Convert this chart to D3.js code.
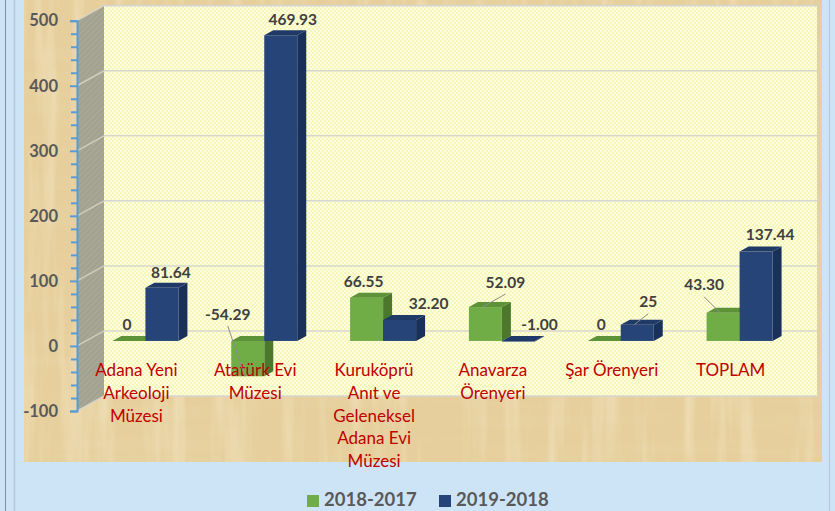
<!DOCTYPE html>
<html>
<head>
<meta charset="utf-8">
<script src="https://cdn.jsdelivr.net/npm/d3@7"></script>
<style>
  body { margin: 0; background: #cde4f7; }
  svg { display: block; }
</style>
</head>
<body>
<div id="chart"></div>
<script>
// data
var categories = ["Adana Yeni Arkeoloji Müzesi", "Atatürk Evi Müzesi",
    "Kuruköprü Anıt ve Geleneksel Adana Evi Müzesi", "Anavarza Örenyeri",
    "Şar Örenyeri", "TOPLAM"];
var seriesNames = ["2018-2017", "2019-2018"];
var values2018 = [0, -54.29, 66.55, 52.09, 0, 43.30];
var values2019 = [81.64, 469.93, 32.20, -1.00, 25, 137.44];
var decimals2018 = [0, 2, 2, 2, 0, 2];
var decimals2019 = [2, 2, 2, 2, 0, 2];
var yTicks = [-100, 0, 100, 200, 300, 400, 500];

// label nudges (the original labels were moved by hand)
var labelShift2018 = [[-2, -17], [-20, -27], [-3, -16], [20, -25], [-3, -17], [-19, -28]];
var labelShift2019 = [[9, -15], [12, -16], [29, -17], [21, -17], [11, -23], [14, -17]];
var leader2018 = [0, 1, 0, 1, 0, 1];
var leader2019 = [0, 0, 0, 0, 1, 0];

var W = 835, H = 511;
var depthX = 27, depthY = -15;       // wall depth
var colors = [
    { front: "#70ad47", top: "#5d9239", side: "#4b782c" },
    { front: "#264478", top: "#203a68", side: "#19305a" }
];

var svg = d3.select("#chart").append("svg")
    .attr("width", W).attr("height", H);

var defs = svg.append("defs");

// papyrus texture
var f = defs.append("filter").attr("id", "papyrus")
    .attr("x", 0).attr("y", 0).attr("width", "100%").attr("height", "100%");
f.append("feTurbulence").attr("type", "fractalNoise")
    .attr("baseFrequency", "0.004 0.07").attr("numOctaves", 3).attr("seed", 4).attr("result", "n1");
f.append("feColorMatrix").attr("in", "n1").attr("type", "matrix")
    .attr("values", "0 0 0 0 0.82  0 0 0 0 0.68  0 0 0 0 0.42  0 0 0 1.4 -0.65").attr("result", "c1");
f.append("feTurbulence").attr("type", "fractalNoise")
    .attr("baseFrequency", "0.07 0.006").attr("numOctaves", 3).attr("seed", 9).attr("result", "n2");
f.append("feColorMatrix").attr("in", "n2").attr("type", "matrix")
    .attr("values", "0 0 0 0 0.98  0 0 0 0 0.92  0 0 0 0 0.74  0 0 0 1.4 -0.65").attr("result", "c2");
var fm = f.append("feMerge");
fm.append("feMergeNode").attr("in", "c1");
fm.append("feMergeNode").attr("in", "c2");

// yellow dotted wall
var dots = defs.append("pattern").attr("id", "dots")
    .attr("width", 4).attr("height", 4).attr("patternUnits", "userSpaceOnUse");
dots.append("rect").attr("width", 4).attr("height", 4).attr("fill", "#fdfde2");
dots.append("circle").attr("cx", 1).attr("cy", 1).attr("r", 0.9).attr("fill", "#f4f4a2");
dots.append("circle").attr("cx", 3).attr("cy", 3).attr("r", 0.9).attr("fill", "#f4f4a2");

// hatched side wall
var hatch = defs.append("pattern").attr("id", "hatch")
    .attr("width", 4).attr("height", 4).attr("patternUnits", "userSpaceOnUse")
    .attr("patternTransform", "rotate(45)");
hatch.append("rect").attr("width", 4).attr("height", 4).attr("fill", "#a3a190");
hatch.append("line").attr("x1", 0).attr("y1", 0).attr("x2", 0).attr("y2", 4)
    .attr("stroke", "#afad9c").attr("stroke-width", 1.5);

// outer frame
svg.append("rect").attr("width", W).attr("height", H).attr("fill", "#cde4f7");
svg.append("line").attr("x1", 5.5).attr("x2", 5.5).attr("y1", 0).attr("y2", H)
    .attr("stroke", "#5b9bd5").attr("stroke-width", 1);
svg.append("line").attr("x1", 14.5).attr("x2", 14.5).attr("y1", 0).attr("y2", H)
    .attr("stroke", "#b4c6d8").attr("stroke-width", 1.5);
svg.append("line").attr("x1", 829.5).attr("x2", 829.5).attr("y1", 0).attr("y2", H)
    .attr("stroke", "#b4c6d8").attr("stroke-width", 1);

// papyrus area
svg.append("rect").attr("x", 24).attr("y", 0).attr("width", 798).attr("height", 462)
    .attr("fill", "#e6cf9c");
svg.append("rect").attr("x", 24).attr("y", 0).attr("width", 798).attr("height", 462)
    .attr("filter", "url(#papyrus)").attr("opacity", 0.6);

// scales
var y = d3.scaleLinear().domain([-100, 500]).range([411, 20.7]);
var x = d3.scaleBand().domain(categories).range([77, 790]).paddingInner(0);
var x1 = d3.scaleBand().domain(seriesNames).range([0, 66]);

var axisX = 77;
var yMin = y(-100), yMax = y(500);

// back wall
svg.append("rect").attr("x", axisX + depthX).attr("y", yMax + depthY)
    .attr("width", 817 - axisX - depthX).attr("height", yMin - yMax)
    .attr("fill", "url(#dots)");

// side wall
svg.append("polygon")
    .attr("points", [[axisX, yMax], [axisX + depthX, yMax + depthY],
        [axisX + depthX, yMin + depthY], [axisX, yMin]].join(" "))
    .attr("fill", "url(#hatch)");

// gridlines
svg.selectAll(".grid").data(yTicks).enter().append("line")
    .attr("class", "grid")
    .attr("x1", axisX + depthX).attr("x2", 817)
    .attr("y1", function(d) { return y(d) + depthY; })
    .attr("y2", function(d) { return y(d) + depthY; })
    .attr("stroke", "#d6d6d0").attr("stroke-width", 1.5);
svg.selectAll(".sgrid").data(yTicks).enter().append("line")
    .attr("class", "sgrid")
    .attr("x1", axisX).attr("x2", axisX + depthX)
    .attr("y1", function(d) { return y(d); })
    .attr("y2", function(d) { return y(d) + depthY; })
    .attr("stroke", "#d8d8cc").attr("stroke-width", 1.5).attr("opacity", 0.8);

// y axis
var minorTicks = d3.range(-100, 501, 20).filter(function(d) { return d % 100 != 0; });
var axisG = svg.append("g").attr("transform", "translate(" + axisX + ",0)")
    .call(d3.axisLeft(y).tickValues(yTicks).tickSize(7).tickPadding(12)
        .tickFormat(function(d) { return String(d); }));
axisG.select(".domain").attr("stroke", "#5b9bd5").attr("stroke-width", 2);
axisG.selectAll(".tick line").attr("stroke", "#5b9bd5").attr("stroke-width", 2);
axisG.selectAll(".tick text")
    .attr("fill", "#595959")
    .style("font-family", "Lato, sans-serif")
    .style("font-weight", "bold")
    .style("font-size", "16.5px");
var minorG = svg.append("g").attr("transform", "translate(" + axisX + ",0)")
    .call(d3.axisLeft(y).tickValues(minorTicks).tickSize(6).tickFormat(""));
minorG.select(".domain").remove();
minorG.selectAll(".tick line").attr("stroke", "#5b9bd5").attr("stroke-width", 2);

// build bar records
var bars = [];
categories.forEach(function(c, i) {
    [values2018, values2019].forEach(function(vals, s) {
        var x0 = x(c) + (x.bandwidth() - 66) / 2 + x1(seriesNames[s]) + depthX / 3;
        bars.push({
            cat: c, s: s, v: vals[i], i: i,
            x0: x0, x1: x0 + x1.bandwidth(),
            yt: y(Math.max(vals[i], 0)) + depthY / 3,
            yb: y(Math.min(vals[i], 0)) + depthY / 3,
            dec: (s == 0 ? decimals2018 : decimals2019)[i],
            shift: (s == 0 ? labelShift2018 : labelShift2019)[i],
            leader: (s == 0 ? leader2018 : leader2019)[i]
        });
    });
});

var bdx = depthX / 3, bdy = depthY / 3;
var barG = svg.append("g");
bars.forEach(function(b) {
    var g = barG.append("g");
    var col = colors[b.s];
    g.append("polygon")
        .attr("points", [[b.x1, b.yt], [b.x1 + bdx, b.yt + bdy], [b.x1 + bdx, b.yb + bdy], [b.x1, b.yb]].join(" "))
        .attr("fill", col.side);
    g.append("rect").attr("x", b.x0).attr("y", b.yt)
        .attr("width", b.x1 - b.x0).attr("height", b.yb - b.yt)
        .attr("fill", col.front);
    g.append("polygon")
        .attr("points", [[b.x0, b.yt], [b.x0 + bdx, b.yt + bdy], [b.x1 + bdx, b.yt + bdy], [b.x1, b.yt]].join(" "))
        .attr("fill", col.top);
});

// category labels (wrapped)
var catG = svg.append("g")
    .style("font-family", "Lato, sans-serif")
    .style("font-size", "17px")
    .attr("fill", "#c00000")
    .attr("text-anchor", "middle");
categories.forEach(function(c) {
    var cx = x(c) + x.bandwidth() / 2;
    var t = catG.append("text").attr("x", cx).attr("y", 376);
    var words = c.split(" "), line = [];
    var tspan = t.append("tspan").attr("x", cx).attr("dy", 0);
    words.forEach(function(w) {
        line.push(w);
        tspan.text(line.join(" "));
        if (tspan.node().getComputedTextLength() > 100 && line.length > 1) {
            line.pop();
            tspan.text(line.join(" "));
            line = [w];
            tspan = t.append("tspan").attr("x", cx).attr("dy", 22.8).text(w);
        }
    });
});

// value labels and leader lines
var labG = svg.append("g");
bars.forEach(function(b) {
    var cx = (b.x0 + b.x1) / 2;
    var lx = cx + b.shift[0], ly = b.yt + b.shift[1];
    var endY = (b.v < 0 && b.s == 0) ? b.yb : b.yt;
    if (b.leader) {
        labG.append("line")
            .attr("x1", lx).attr("y1", ly + 12)
            .attr("x2", cx - 3).attr("y2", endY)
            .attr("stroke", "#8c8c8c").attr("stroke-width", 1);
    }
    labG.append("text")
        .attr("x", lx).attr("y", ly)
        .attr("dy", "0.36em")
        .attr("text-anchor", "middle")
        .attr("fill", "#404040")
        .style("font-family", "Lato, sans-serif")
        .style("font-weight", "bold")
        .style("font-size", "15.5px")
        .text(b.v.toFixed(b.dec));
});

// legend
var legend = svg.append("g")
    .style("font-family", "Lato, sans-serif")
    .style("font-weight", "bold")
    .style("font-size", "18.5px");
var legendX = [307, 439];
seriesNames.forEach(function(s, i) {
    legend.append("rect").attr("x", legendX[i]).attr("y", 495)
        .attr("width", 12).attr("height", 12).attr("fill", colors[i].front);
    legend.append("text").attr("x", legendX[i] + 17).attr("y", 506)
        .attr("fill", "#595959").text(s);
});
</script>
</body>
</html>
